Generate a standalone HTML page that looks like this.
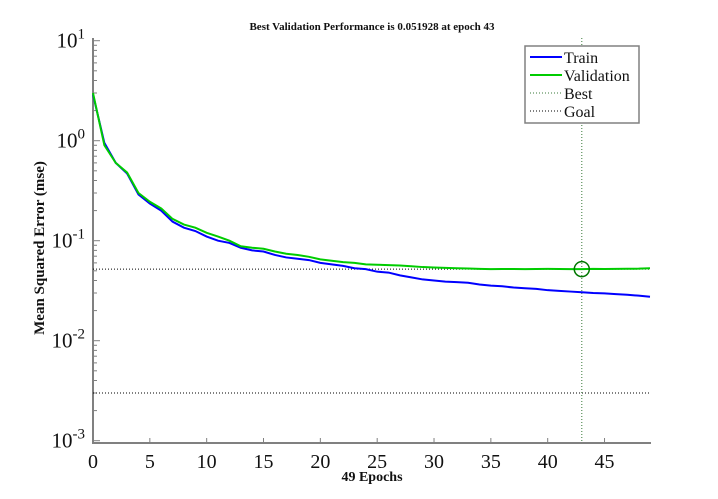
<!DOCTYPE html>
<html><head><meta charset="utf-8"><style>
html,body{margin:0;padding:0;background:#fff;}
svg{display:block;font-family:"Liberation Serif",serif;}
</style></head><body>
<svg id="chart" width="718" height="499" xmlns="http://www.w3.org/2000/svg"></svg>
<script>
const epochs = [];
for (let i = 0; i <= 49; i++) epochs.push(i);
const trainMse = [2.9,0.95,0.6,0.47,0.29,0.235,0.2,0.155,0.135,0.125,0.11,0.1,0.095,0.085,0.08,0.078,0.072,0.068,0.066,0.064,0.06,0.058,0.056,0.053,0.052,0.049,0.048,0.045,0.043,0.041,0.04,0.039,0.0385,0.038,0.0365,0.0355,0.035,0.034,0.0335,0.033,0.032,0.0315,0.031,0.0305,0.030,0.0297,0.0292,0.0288,0.0282,0.0275];
const validationMse = [3.0,0.9,0.6,0.48,0.3,0.245,0.21,0.165,0.145,0.135,0.12,0.11,0.1,0.088,0.085,0.083,0.078,0.074,0.072,0.069,0.065,0.063,0.061,0.06,0.058,0.0575,0.057,0.0565,0.0555,0.0545,0.054,0.0535,0.053,0.0527,0.0522,0.052,0.0521,0.0521,0.052,0.0521,0.0522,0.0521,0.052,0.051928,0.0522,0.0521,0.0523,0.0524,0.0525,0.053];
const bestEpoch = 43;
const bestValue = 0.051928;
const goalValue = 0.003;
const xTicks = [0,5,10,15,20,25,30,35,40,45];
const yTickExps = [1,0,-1,-2,-3];

const NS = "http://www.w3.org/2000/svg";
const svg = document.getElementById('chart');
const L = 93, R = 650, TOP = 38, BOT = 443;
const x = v => L + (v / 49) * (R - L);
const y = v => 140.7 - 100 * Math.log10(v);
function el(tag, attrs, parent) {
  const e = document.createElementNS(NS, tag);
  for (const k in attrs) e.setAttribute(k, attrs[k]);
  (parent || svg).appendChild(e);
  return e;
}
const axes = el('g', {});


el('line', {x1:L, y1:TOP, x2:L, y2:BOT, stroke:'#808080', 'stroke-width':2}, axes);
el('line', {x1:L-1, y1:BOT, x2:R+1, y2:BOT, stroke:'#808080', 'stroke-width':2}, axes);
xTicks.forEach(t => {
  el('line', {x1:x(t), y1:BOT, x2:x(t), y2:BOT-5, stroke:'#808080', 'stroke-width':1}, axes);
  const tx = el('text', {x:x(t), y:BOT+25, 'font-size':20, 'text-anchor':'middle', fill:'#111'}, axes);
  tx.textContent = t;
  
  
});
yTickExps.forEach(e => {
  const py = y(Math.pow(10, e));
  el('line', {x1:L, y1:py, x2:L+7, y2:py, stroke:'#808080', 'stroke-width':1}, axes);
  if (e > -3) for (let m = 2; m <= 9; m++) {
    const my = y(m * Math.pow(10, e - 1));
    el('line', {x1:L, y1:my, x2:L+4, y2:my, stroke:'#808080', 'stroke-width':1}, axes);
  }
  const tx = el('text', {x:L-8, y:py+7, 'font-size':21, 'text-anchor':'end', fill:'#111'}, axes);
  tx.innerHTML = '10<tspan dy="-9" font-size="15">' + e + '</tspan>';
  
  
});
const goal = el('line', {x1:L, y1:y(goalValue), x2:R, y2:y(goalValue), stroke:'#000', 'stroke-width':1, 'stroke-dasharray':'1,2'});


const bestH = el('line', {x1:L, y1:y(bestValue), x2:R, y2:y(bestValue), stroke:'#000', 'stroke-width':1, 'stroke-dasharray':'1,2'});


const bestV = el('line', {x1:x(bestEpoch), y1:TOP, x2:x(bestEpoch), y2:BOT, stroke:'#3a7a3a', 'stroke-width':1, 'stroke-dasharray':'1,2'});


function pts(arr) { return arr.map((v, i) => x(epochs[i]) + ',' + y(v)).join(' '); }
const tr = el('polyline', {points:pts(trainMse), fill:'none', stroke:'#0000ff', 'stroke-width':2});


const va = el('polyline', {points:pts(validationMse), fill:'none', stroke:'#00cc00', 'stroke-width':2});


const bc = el('circle', {cx:x(bestEpoch), cy:y(bestValue), r:7.5, fill:'none', stroke:'#007700', 'stroke-width':1.5});


const title = el('text', {x:372, y:30, 'font-size':11, 'font-weight':'bold', 'text-anchor':'middle', fill:'#111'});
title.textContent = 'Best Validation Performance is 0.051928 at epoch 43';


const xt = el('text', {x:372, y:481, 'font-size':14, 'font-weight':'bold', 'text-anchor':'middle', fill:'#111'});
xt.textContent = '49 Epochs';


const yt = el('text', {x:0, y:0, 'font-size':15, 'font-weight':'bold', 'text-anchor':'middle', fill:'#111', transform:'translate(44,248) rotate(-90)'});
yt.textContent = 'Mean Squared Error  (mse)';
yt.setAttribute('xml:space', 'preserve');


const lg = el('g', {});


el('rect', {x:525, y:46, width:114, height:77, fill:'#fff', stroke:'#808080', 'stroke-width':1.5}, lg);
const entries = [['Train','#0000ff',2,null],['Validation','#00cc00',2,null],['Best','#3a7a3a',1,'1,2'],['Goal','#000',1,'1,2']];
entries.forEach((en, i) => {
  const ey = 57 + i * 18;
  const ln = el('line', {x1:530, y1:ey, x2:562, y2:ey, stroke:en[1], 'stroke-width':en[2]}, lg);
  if (en[3]) ln.setAttribute('stroke-dasharray', en[3]);
  const t = el('text', {x:564, y:ey+6, 'font-size':16, fill:'#111'}, lg);
  t.textContent = en[0];
  
  
});
</script>
</body></html>
